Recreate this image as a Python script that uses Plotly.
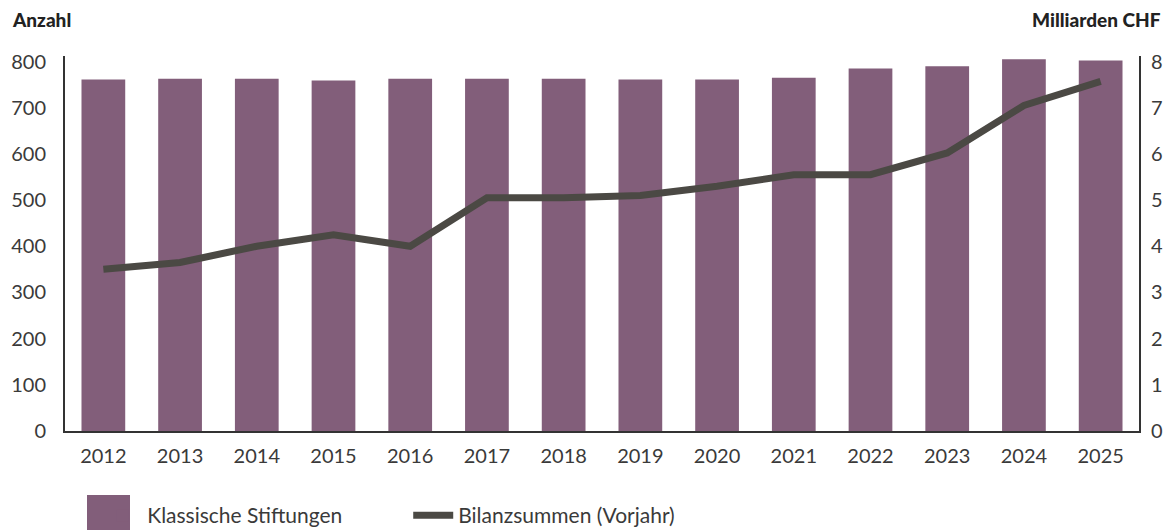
import plotly.graph_objects as go

years = ["2012", "2013", "2014", "2015", "2016", "2017", "2018", "2019", "2020", "2021", "2022", "2023", "2024", "2025"]
stiftungen = [761, 763, 763, 759, 763, 763, 763, 761, 761, 765, 785, 790, 805, 802]
bilanzsummen = [3.5, 3.65, 4.0, 4.25, 4.0, 5.05, 5.05, 5.1, 5.3, 5.55, 5.55, 6.02, 7.05, 7.57]

bar_color = "#825e7a"
line_color = "#4b4944"
text_color = "#3a3a3a"
font_family = "Lato, 'Open Sans', sans-serif"

# plot area: 800 at fig y 54, 0 at fig y 423 -> 0.46125 px/unit; extend range to 812
ymax = 812
top_px = 54 - (ymax - 800) * 369 / 800

fig = go.Figure()
fig.add_trace(go.Bar(x=years, y=stiftungen, name="Klassische Stiftungen",
                     marker=dict(color=bar_color, line=dict(width=0)), yaxis="y"))
fig.add_trace(go.Scatter(x=years, y=bilanzsummen, name="Bilanzsummen (Vorjahr)",
                         mode="lines", line=dict(color=line_color, width=7), yaxis="y2"))

plot_h = 423 - top_px

def py(fig_y):
    return (423 - fig_y) / plot_h

fig.update_layout(
    width=1165, height=522,
    margin=dict(l=57, r=34, t=top_px, b=99, autoexpand=False),
    plot_bgcolor="white", paper_bgcolor="white",
    font=dict(family=font_family, size=20, color=text_color),
    bargap=0.43,
    showlegend=True,
    legend=dict(orientation="h", x=0.03, xanchor="left", y=py(487), yanchor="top",
                font=dict(size=21, color=text_color), itemwidth=40,
                bgcolor="rgba(0,0,0,0)",
                traceorder="normal", entrywidth=256),
    xaxis=dict(showline=True, linecolor="#333333", linewidth=2, ticks="",
               showgrid=False, ticklabelstandoff=6),
    yaxis=dict(range=[0, ymax], tickvals=[0, 100, 200, 300, 400, 500, 600, 700, 800],
               showline=True, linecolor="#333333", linewidth=2, showgrid=False,
               zeroline=False, ticks="", ticklabelstandoff=13, automargin=False),
    yaxis2=dict(range=[0, ymax / 100], tickvals=[0, 1, 2, 3, 4, 5, 6, 7, 8], overlaying="y", side="right",
                showline=True, linecolor="#333333", linewidth=2, showgrid=False,
                zeroline=False, ticks="", ticklabelstandoff=6, automargin=False),
    shapes=[
        dict(type="rect", xref="paper", yref="paper",
             x0=(79 - 57) / 1074, x1=(122 - 57) / 1074, y0=py(487), y1=py(530),
             fillcolor=bar_color, line=dict(width=0), layer="above"),
    ],
    annotations=[
        dict(text="Anzahl", xref="paper", yref="paper", x=0, xshift=-55, y=py(12),
             xanchor="left", yanchor="middle", showarrow=False,
             font=dict(size=19, color="#222222", family="Lato, sans-serif", weight=900)),
        dict(text="Milliarden CHF", xref="paper", yref="paper", x=1.0, xshift=24, y=py(12),
             xanchor="right", yanchor="middle", showarrow=False,
             font=dict(size=19, color="#222222", family="Lato, sans-serif", weight=900)),
    ],
)

fig.write_html("out.html")
